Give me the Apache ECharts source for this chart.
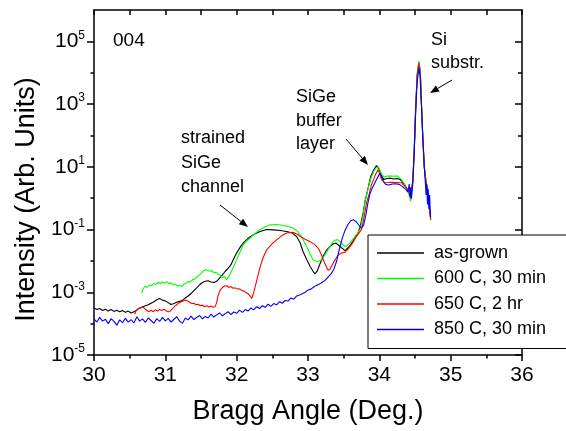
<html>
<head>
<meta charset="utf-8">
<script src="https://cdn.jsdelivr.net/npm/echarts@6/dist/echarts.min.js"></script>
</head>
<body>
<style>
  html, body, #main { width: 100%; height: 100%; margin: 0; background: #fff; }
</style>
<div id="main"></div>
<script>
// log10(intensity) vs Bragg angle
var asGrown = [
  [30.00,-3.50],[30.04,-3.55],[30.08,-3.52],[30.12,-3.58],[30.16,-3.54],[30.20,-3.60],[30.24,-3.55],[30.28,-3.61],
  [30.32,-3.57],[30.36,-3.62],[30.40,-3.58],[30.44,-3.64],[30.48,-3.60],[30.52,-3.66],[30.56,-3.62],[30.60,-3.57],
  [30.64,-3.50],[30.68,-3.47],[30.72,-3.43],[30.76,-3.40],[30.80,-3.35],[30.84,-3.30],[30.88,-3.24],[30.92,-3.20],
  [30.96,-3.25],[31.00,-3.28],[31.04,-3.33],[31.08,-3.39],[31.12,-3.36],[31.16,-3.32],[31.20,-3.29],[31.24,-3.26],
  [31.28,-3.18],[31.32,-3.12],[31.36,-3.04],[31.40,-2.95],[31.44,-2.86],[31.48,-2.76],[31.52,-2.69],[31.56,-2.65],
  [31.60,-2.63],[31.64,-2.67],[31.68,-2.69],[31.72,-2.65],[31.76,-2.55],[31.80,-2.45],[31.84,-2.33],[31.88,-2.24],
  [31.92,-2.12],[31.96,-1.92],[32.00,-1.75],[32.05,-1.56],[32.10,-1.41],[32.16,-1.28],[32.23,-1.17],[32.32,-1.07],
  [32.42,-1.00],[32.52,-1.01],[32.61,-1.03],[32.70,-1.06],[32.77,-1.10],[32.84,-1.22],[32.89,-1.42],[32.93,-1.70],
  [32.98,-1.95],[33.03,-2.18],[33.07,-2.33],[33.10,-2.41],[33.13,-2.32],[33.17,-2.08],[33.21,-1.86],[33.26,-1.66],
  [33.31,-1.54],[33.35,-1.46],[33.39,-1.43],[33.43,-1.50],[33.47,-1.58],[33.52,-1.67],[33.56,-1.58],[33.60,-1.47],
  [33.65,-1.30],[33.70,-1.12],[33.73,-0.92],[33.77,-0.50],[33.80,-0.10],[33.84,0.30],[33.88,0.70],[33.92,0.90],
  [33.96,1.04],[33.99,0.95],[34.02,0.76],[34.06,0.60],[34.10,0.62],[34.15,0.64],[34.20,0.61],[34.25,0.63],
  [34.29,0.60],[34.34,0.48],[34.38,0.33],[34.41,0.20],[34.44,0.04],[34.47,0.60],[34.49,1.60],[34.51,2.90],
  [34.53,3.90],[34.555,4.34],[34.575,4.00],[34.59,3.00],[34.61,1.90],[34.63,1.00],[34.65,0.60],[34.67,0.30],
  [34.69,0.00],[34.71,-0.45],[34.72,-0.65]
];
var c600 = [
  [30.67,-3.03],[30.69,-2.88],[30.72,-2.80],[30.75,-2.84],[30.78,-2.76],[30.81,-2.79],[30.84,-2.72],[30.87,-2.75],
  [30.90,-2.68],[30.93,-2.73],[30.96,-2.67],[30.99,-2.71],[31.02,-2.66],[31.05,-2.72],[31.08,-2.70],[31.11,-2.77],
  [31.14,-2.74],[31.17,-2.80],[31.20,-2.78],[31.23,-2.82],[31.26,-2.74],[31.29,-2.72],[31.32,-2.66],[31.35,-2.68],
  [31.38,-2.60],[31.41,-2.58],[31.44,-2.52],[31.47,-2.46],[31.50,-2.40],[31.53,-2.32],[31.56,-2.28],[31.59,-2.30],
  [31.62,-2.33],[31.65,-2.31],[31.68,-2.37],[31.71,-2.36],[31.74,-2.42],[31.77,-2.46],[31.80,-2.53],[31.83,-2.50],
  [31.86,-2.60],[31.89,-2.50],[31.92,-2.36],[31.96,-2.17],[32.00,-1.96],[32.05,-1.70],[32.09,-1.49],[32.14,-1.37],
  [32.19,-1.27],[32.26,-1.12],[32.33,-1.00],[32.40,-0.91],[32.47,-0.85],[32.56,-0.84],[32.65,-0.87],[32.72,-0.90],
  [32.79,-0.95],[32.85,-1.05],[32.89,-1.17],[32.94,-1.36],[32.98,-1.54],[33.03,-1.78],[33.07,-1.96],[33.11,-2.01],
  [33.14,-2.02],[33.18,-1.98],[33.21,-1.91],[33.26,-1.72],[33.31,-1.54],[33.35,-1.38],[33.39,-1.33],[33.42,-1.33],
  [33.47,-1.43],[33.51,-1.52],[33.54,-1.54],[33.59,-1.42],[33.64,-1.27],[33.69,-1.13],[33.73,-1.00],[33.77,-0.58],
  [33.80,-0.10],[33.84,0.28],[33.88,0.62],[33.92,0.85],[33.96,0.97],[33.99,0.99],[34.02,0.82],[34.06,0.68],
  [34.10,0.70],[34.15,0.71],[34.20,0.70],[34.25,0.71],[34.30,0.62],[34.34,0.50],[34.38,0.32],[34.41,0.15],
  [34.44,-0.10],[34.47,0.55],[34.49,1.60],[34.51,2.90],[34.53,4.00],[34.555,4.37],[34.575,4.05],[34.59,3.05],
  [34.61,1.95],[34.63,1.05],[34.65,0.62],[34.67,0.32],[34.69,0.00],[34.71,-0.50],[34.72,-0.72]
];
var c650 = [
  [30.57,-3.70],[30.59,-3.58],[30.62,-3.52],[30.65,-3.50],[30.68,-3.46],[30.71,-3.52],[30.74,-3.58],[30.77,-3.62],
  [30.80,-3.57],[30.83,-3.62],[30.86,-3.56],[30.89,-3.60],[30.92,-3.55],[30.95,-3.58],[30.98,-3.54],[31.01,-3.59],
  [31.04,-3.62],[31.07,-3.60],[31.10,-3.52],[31.13,-3.45],[31.16,-3.40],[31.19,-3.34],[31.22,-3.31],[31.25,-3.28],
  [31.28,-3.25],[31.31,-3.27],[31.34,-3.32],[31.37,-3.36],[31.40,-3.35],[31.43,-3.40],[31.46,-3.38],[31.49,-3.43],
  [31.52,-3.41],[31.55,-3.46],[31.58,-3.43],[31.61,-3.47],[31.64,-3.44],[31.67,-3.48],[31.70,-3.45],[31.72,-3.32],
  [31.74,-3.10],[31.77,-2.92],[31.80,-2.85],[31.83,-2.80],[31.86,-2.79],[31.89,-2.84],[31.92,-2.82],[31.95,-2.87],
  [31.98,-2.86],[32.01,-2.90],[32.04,-2.89],[32.07,-2.94],[32.10,-2.96],[32.13,-3.01],[32.16,-3.05],[32.19,-3.12],
  [32.21,-3.20],[32.23,-3.08],[32.26,-2.82],[32.30,-2.45],[32.33,-2.18],[32.37,-1.90],[32.42,-1.65],[32.49,-1.47],
  [32.56,-1.33],[32.63,-1.20],[32.70,-1.11],[32.79,-1.09],[32.85,-1.15],[32.89,-1.22],[32.98,-1.33],[33.04,-1.40],
  [33.10,-1.49],[33.15,-1.62],[33.19,-1.81],[33.23,-2.05],[33.28,-2.30],[33.31,-2.26],[33.34,-2.12],[33.37,-2.00],
  [33.42,-1.82],[33.47,-1.75],[33.52,-1.72],[33.57,-1.60],[33.62,-1.45],[33.67,-1.25],[33.72,-1.10],[33.75,-1.00],
  [33.79,-0.55],[33.82,-0.15],[33.86,0.15],[33.89,0.43],[33.94,0.72],[33.98,0.91],[34.01,0.75],[34.03,0.59],
  [34.08,0.49],[34.13,0.50],[34.17,0.51],[34.24,0.50],[34.31,0.49],[34.36,0.38],[34.41,0.22],[34.44,0.00],
  [34.47,0.55],[34.49,1.55],[34.51,2.85],[34.53,3.90],[34.555,4.30],[34.575,3.95],[34.59,3.00],[34.61,1.90],
  [34.63,1.00],[34.65,0.60],[34.67,0.30],[34.69,-0.05],[34.71,-0.50],[34.72,-0.68]
];
var c850 = [
  [30.00,-3.85],[30.04,-3.95],[30.08,-3.80],[30.12,-3.92],[30.16,-3.86],[30.20,-4.00],[30.24,-3.84],[30.28,-3.93],
  [30.32,-4.05],[30.36,-3.88],[30.40,-3.97],[30.44,-3.83],[30.48,-3.95],[30.52,-3.87],[30.56,-3.98],[30.60,-3.78],
  [30.64,-3.92],[30.68,-3.85],[30.72,-3.96],[30.76,-3.82],[30.80,-3.90],[30.84,-3.99],[30.88,-3.84],[30.92,-3.93],
  [30.96,-3.80],[31.00,-3.91],[31.04,-3.83],[31.08,-3.95],[31.12,-3.86],[31.16,-3.78],[31.20,-3.92],[31.24,-3.99],
  [31.28,-3.82],[31.32,-3.88],[31.36,-3.76],[31.40,-3.87],[31.44,-3.80],[31.48,-3.74],[31.52,-3.85],[31.56,-3.77],
  [31.60,-3.82],[31.64,-3.70],[31.68,-3.79],[31.72,-3.72],[31.76,-3.66],[31.80,-3.75],[31.84,-3.68],[31.88,-3.62],
  [31.92,-3.71],[31.96,-3.63],[32.00,-3.67],[32.04,-3.57],[32.08,-3.64],[32.12,-3.55],[32.16,-3.60],[32.20,-3.50],
  [32.24,-3.56],[32.28,-3.46],[32.32,-3.52],[32.36,-3.43],[32.40,-3.48],[32.44,-3.38],[32.48,-3.45],[32.52,-3.36],
  [32.56,-3.40],[32.60,-3.30],[32.64,-3.35],[32.68,-3.26],[32.72,-3.28],[32.76,-3.18],[32.80,-3.22],[32.84,-3.12],
  [32.88,-3.09],[32.92,-3.05],[32.96,-3.00],[33.00,-2.93],[33.04,-2.90],[33.08,-2.83],[33.12,-2.78],[33.16,-2.74],
  [33.20,-2.68],[33.24,-2.62],[33.28,-2.52],[33.32,-2.42],[33.36,-2.28],[33.40,-2.02],[33.44,-1.62],[33.48,-1.28],
  [33.52,-1.02],[33.56,-0.84],[33.60,-0.72],[33.64,-0.69],[33.68,-0.76],[33.72,-0.88],[33.75,-0.95],[33.78,-0.86],
  [33.81,-0.55],[33.84,-0.15],[33.87,0.15],[33.90,0.32],[33.94,0.50],[33.98,0.68],[34.01,0.80],[34.03,0.76],
  [34.06,0.52],[34.09,0.44],[34.13,0.42],[34.18,0.45],[34.23,0.46],[34.28,0.44],[34.33,0.36],[34.37,0.28],
  [34.40,0.20],[34.42,0.45],[34.43,0.05],[34.44,0.35],[34.45,-0.02],[34.47,0.50],[34.49,1.50],[34.51,2.80],
  [34.53,3.70],[34.555,4.16],[34.57,3.90],[34.59,3.00],[34.61,1.90],[34.63,1.00],[34.645,0.50],[34.655,0.10],
  [34.665,0.45],[34.675,-0.20],[34.685,0.30],[34.695,-0.35],[34.705,0.10],[34.715,-0.50],[34.72,-0.60]
];

var seriesNames = ['as-grown', '600 C, 30 min', '650 C, 2 hr', '850 C, 30 min'];
var seriesColors = ['#000000', '#00ff00', '#ff0000', '#0000ff'];
var seriesData = [asGrown, c600, c650, c850];

var yMajorExp = [-5, -3, -1, 1, 3, 5];
var yMinorExp = [-4, -2, 0, 2, 4];

var font = 'Liberation Sans, Arial, sans-serif';

function arrow(x1, y1, x2, y2) {
  var a = Math.atan2(y2 - y1, x2 - x1), L = 9, W = 3.5;
  var bx = x2 - L * Math.cos(a), by = y2 - L * Math.sin(a);
  return [
    { type: 'line', shape: { x1: x1, y1: y1, x2: bx, y2: by }, style: { stroke: '#000', lineWidth: 1 } },
    { type: 'polygon', shape: { points: [[x2, y2], [bx - W * Math.sin(a), by + W * Math.cos(a)], [bx + W * Math.sin(a), by - W * Math.cos(a)]] },
      style: { fill: '#000' } }
  ];
}
function label(txt, x, y, lh, size) {
  return { type: 'text', x: x, y: y, style: { text: txt, fontFamily: font, fontSize: size || 18, lineHeight: lh || 24, fill: '#000', verticalAlign: 'top' } };
}

var chart = echarts.init(document.getElementById('main'));
var axisStroke = { color: '#000', width: 1.5 };
var yBase = { type: 'value', min: -5, max: 6, splitLine: { show: false }, axisLine: { show: false, onZero: false } };

chart.setOption({
  animation: false,
  grid: { left: 94, right: 44, top: 10, bottom: 76 },
  xAxis: [
    { type: 'value', position: 'bottom', min: 30, max: 36, interval: 1,
      name: 'Bragg Angle (Deg.)', nameLocation: 'middle', nameGap: 43,
      nameTextStyle: { fontFamily: font, fontSize: 27, color: '#000' },
      axisLine: { onZero: false, lineStyle: axisStroke },
      axisTick: { length: 6, lineStyle: axisStroke },
      minorTick: { show: true, splitNumber: 2, length: 3.5, lineStyle: axisStroke },
      splitLine: { show: false },
      axisLabel: { fontFamily: font, fontSize: 21, color: '#000', margin: 10 } },
    { type: 'value', position: 'top', min: 30, max: 36, interval: 0.5,
      axisLine: { onZero: false, lineStyle: axisStroke },
      axisTick: { inside: true, length: 5, lineStyle: axisStroke },
      splitLine: { show: false }, axisLabel: { show: false } }
  ],
  yAxis: [
    Object.assign({}, yBase, { position: 'left',
      axisLine: { show: true, onZero: false, lineStyle: axisStroke },
      name: 'Intensity (Arb. Units)', nameLocation: 'middle', nameGap: 53,
      nameTextStyle: { fontFamily: font, fontSize: 27, color: '#000', padding: [0, 34, 0, 0] },
      axisTick: { customValues: yMajorExp, length: 7, lineStyle: axisStroke },
      axisLabel: { customValues: yMajorExp, margin: 9, color: '#000',
        formatter: function (v) { return '{b|10}{s|' + v + '}'; },
        rich: { b: { fontFamily: font, fontSize: 21, color: '#000' },
                s: { fontFamily: font, fontSize: 12, color: '#000', padding: [0, 0, 12, 0] } } } }),
    Object.assign({}, yBase, { position: 'left',
      axisTick: { customValues: yMinorExp, length: 3.5, lineStyle: axisStroke },
      axisLabel: { show: false } }),
    Object.assign({}, yBase, { position: 'right',
      axisLine: { show: true, onZero: false, lineStyle: axisStroke },
      axisTick: { customValues: yMajorExp, inside: true, length: 7, lineStyle: axisStroke },
      axisLabel: { show: false } }),
    Object.assign({}, yBase, { position: 'right',
      axisTick: { customValues: yMinorExp, inside: true, length: 4, lineStyle: axisStroke },
      axisLabel: { show: false } })
  ],
  legend: {
    orient: 'vertical', left: 368, top: 235, icon: 'rect',
    padding: [9, 30, 10, 9], itemGap: 7.5, itemWidth: 47, itemHeight: 1.5,
    borderColor: '#000', borderWidth: 1, backgroundColor: '#fff',
    textStyle: { fontFamily: font, fontSize: 18, lineHeight: 18, color: '#000', padding: [0, 0, 0, 5] },
    data: seriesNames
  },
  series: seriesData.map(function (d, i) {
    return { name: seriesNames[i], type: 'line', data: d, symbol: 'none',
      xAxisIndex: 0, yAxisIndex: 0, z: 2 + i,
      lineStyle: { color: seriesColors[i], width: 1.1 }, itemStyle: { color: seriesColors[i] } };
  }),
  graphic: { elements: [].concat(
    [label('004', 113, 31, 20, 19),
     label('strained\nSiGe\nchannel', 181, 126, 24.5),
     label('SiGe\nbuffer\nlayer', 296, 85, 23.7),
     label('Si\nsubstr.', 431, 28, 23.5)],
    arrow(220, 205, 248, 227),
    arrow(346, 139, 368, 165),
    arrow(452, 80, 430, 93)
  ) }
});
window.onresize = chart.resize;
</script>
</body>
</html>
